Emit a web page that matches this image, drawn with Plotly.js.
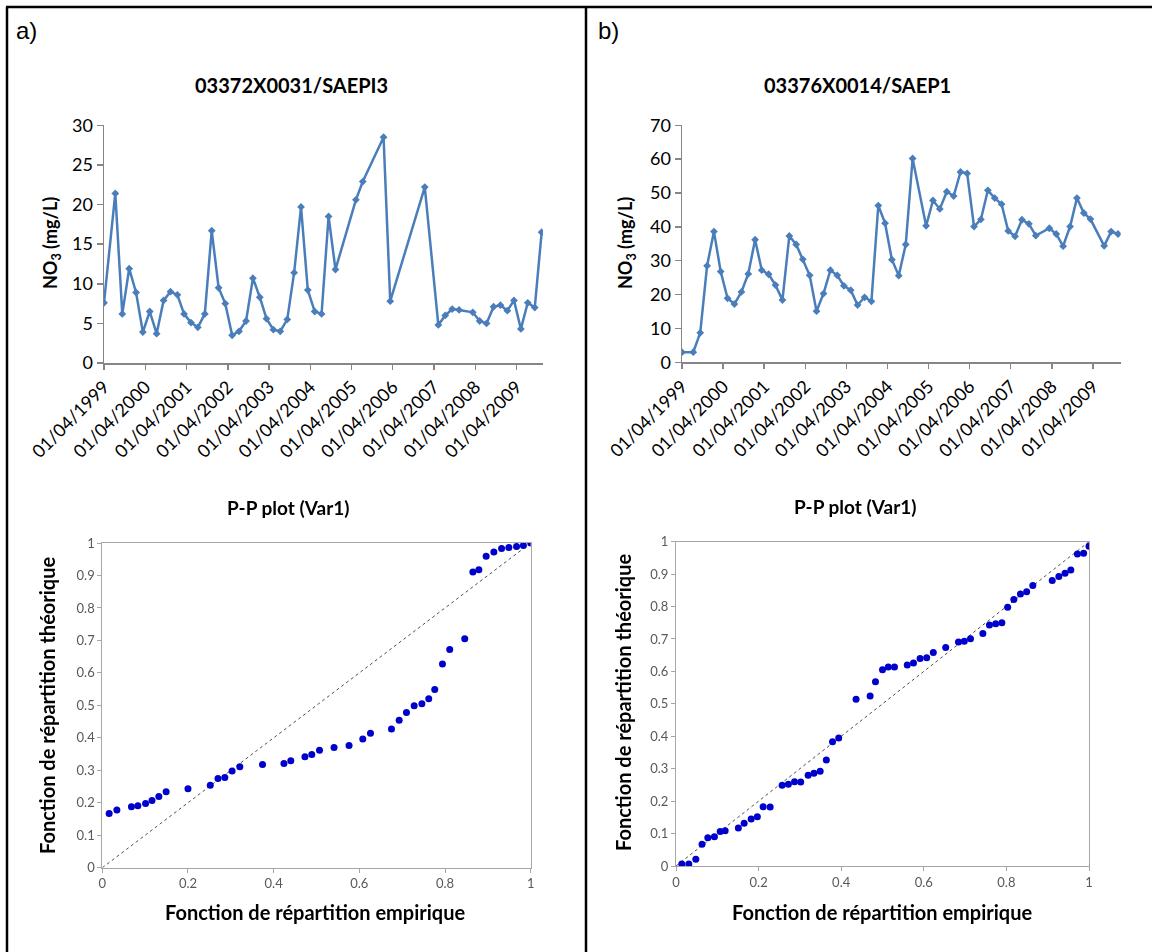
<!DOCTYPE html>
<html>
<head>
<meta charset="utf-8">
<script src="https://cdn.plot.ly/plotly-3.0.1.min.js"></script>
<style>
  html, body { margin: 0; padding: 0; background: #ffffff; }
  #wrap { position: relative; width: 1152px; height: 952px; }
  #series { position: absolute; left: 0; top: 0; width: 1152px; height: 952px; }
  #pp { position: absolute; left: 0; top: 480px; width: 1152px; height: 472px; filter: blur(0.45px); }
</style>
</head>
<body>
<div id="wrap">
  <div id="series"></div>
  <div id="pp"></div>
</div>
<script>
// ---- Station a) 03372X0031/SAEPI3 : nitrate time series ----
const datesA = [
  '1999-04-01','1999-07-10','1999-09-10','1999-11-10','2000-01-10','2000-03-10','2000-05-10',
  '2000-07-10','2000-09-10','2000-11-10','2001-01-10','2001-03-10','2001-05-10','2001-07-10',
  '2001-09-10','2001-11-10','2002-01-10','2002-03-10','2002-05-10','2002-07-10','2002-09-10',
  '2002-11-10','2003-01-10','2003-03-10','2003-05-10','2003-07-10','2003-09-10','2003-11-10',
  '2004-01-10','2004-03-10','2004-05-10','2004-07-10','2004-09-10','2004-11-10','2005-05-10',
  '2005-07-10','2006-01-10','2006-03-10','2007-01-10','2007-05-10','2007-07-10','2007-09-10',
  '2007-11-10','2008-03-10','2008-05-10','2008-07-10','2008-09-10','2008-11-10','2009-01-10',
  '2009-03-10','2009-05-10','2009-07-10','2009-09-10','2009-11-10'
];
const no3A = [
  7.6, 21.4, 6.2, 11.9, 8.9, 3.9, 6.5,
  3.7, 7.9, 9.0, 8.6, 6.2, 5.1, 4.5,
  6.2, 16.7, 9.5, 7.5, 3.5, 4.0, 5.3,
  10.7, 8.3, 5.6, 4.2, 4.0, 5.5, 11.4,
  19.7, 9.2, 6.5, 6.2, 18.5, 11.8, 20.6,
  22.9, 28.5, 7.8, 22.2, 4.8, 6.0, 6.8,
  6.7, 6.4, 5.3, 5.0, 7.1, 7.3, 6.6,
  7.9, 4.3, 7.6, 7.0, 16.5
];

// ---- Station b) 03376X0014/SAEP1 : nitrate time series ----
const datesB = [
  '1999-04-01','1999-07-10','1999-09-10','1999-11-10','2000-01-10','2000-03-10','2000-05-10',
  '2000-07-10','2000-09-10','2000-11-10','2001-01-10','2001-03-10','2001-05-10','2001-07-10',
  '2001-09-10','2001-11-10','2002-01-10','2002-03-10','2002-05-10','2002-07-10','2002-09-10',
  '2002-11-10','2003-01-10','2003-03-10','2003-05-10','2003-07-10','2003-09-10','2003-11-10',
  '2004-01-10','2004-03-10','2004-05-10','2004-07-10','2004-09-10','2004-11-10','2005-03-10',
  '2005-05-10','2005-07-10','2005-09-10','2005-11-10','2006-01-10','2006-03-10','2006-05-10',
  '2006-07-10','2006-09-10','2006-11-10','2007-01-10','2007-03-10','2007-05-10','2007-07-10',
  '2007-09-10','2007-11-10','2008-03-10','2008-05-10','2008-07-10','2008-09-10','2008-11-10',
  '2009-01-10','2009-03-10','2009-07-10','2009-09-10','2009-11-10'
];
const no3B = [
  3.0, 3.0, 8.7, 28.5, 38.6, 26.8, 18.9,
  17.2, 20.8, 26.1, 36.2, 27.2, 26.0, 22.8,
  18.4, 37.3, 34.8, 30.4, 25.7, 15.1, 20.3,
  27.2, 25.7, 22.6, 21.3, 16.9, 19.2, 18.0,
  46.3, 41.1, 30.3, 25.6, 34.8, 60.2, 40.3,
  47.8, 45.3, 50.4, 49.1, 56.2, 55.8, 40.1,
  42.2, 50.8, 48.5, 46.7, 38.8, 37.2, 42.1,
  40.9, 37.4, 39.6, 37.9, 34.3, 40.1, 48.5,
  44.1, 42.3, 34.4, 38.6, 37.9
];

// Yearly date ticks shown as dd/mm/yyyy
const tickDates = ['1999-04-01','2000-04-01','2001-04-01','2002-04-01','2003-04-01','2004-04-01',
                   '2005-04-01','2006-04-01','2007-04-01','2008-04-01','2009-04-01'];
const tickLabels = ['01/04/1999','01/04/2000','01/04/2001','01/04/2002','01/04/2003','01/04/2004',
                    '01/04/2005','01/04/2006','01/04/2007','01/04/2008','01/04/2009'];

// ---- P-P plots: empirical vs theoretical distribution function ----
const ppEmpA = [0.016,0.034,0.068,0.083,0.101,0.116,0.132,0.149,0.200,0.252,0.270,0.286,0.303,0.321,
                0.374,0.424,0.440,0.473,0.489,0.507,0.541,0.576,0.608,0.626,0.675,0.693,0.710,0.728,
                0.746,0.762,0.776,0.794,0.811,0.846,0.865,0.879,0.896,0.914,0.932,0.949,0.967,0.983,1.000];
const ppTheoA = [0.167,0.178,0.188,0.191,0.198,0.207,0.219,0.234,0.243,0.254,0.275,0.278,0.298,0.311,
                 0.318,0.321,0.329,0.342,0.349,0.362,0.370,0.376,0.396,0.414,0.427,0.454,0.478,0.499,
                 0.505,0.520,0.549,0.627,0.672,0.705,0.911,0.918,0.959,0.972,0.983,0.986,0.989,0.992,1.000];

const ppEmpB = [0.014,0.031,0.048,0.063,0.077,0.093,0.107,0.119,0.151,0.165,0.182,0.197,0.211,0.228,
                0.257,0.272,0.287,0.302,0.320,0.334,0.349,0.364,0.379,0.394,0.436,0.470,0.483,0.500,
                0.514,0.529,0.560,0.575,0.591,0.607,0.623,0.653,0.684,0.698,0.713,0.743,0.759,0.774,
                0.789,0.803,0.818,0.834,0.849,0.864,0.911,0.927,0.942,0.956,0.972,0.987,1.000];
const ppTheoB = [0.006,0.006,0.021,0.067,0.087,0.090,0.106,0.109,0.117,0.132,0.145,0.152,0.183,0.182,
                 0.249,0.252,0.260,0.259,0.280,0.286,0.292,0.327,0.383,0.395,0.514,0.524,0.568,0.605,
                 0.614,0.614,0.620,0.626,0.640,0.642,0.658,0.674,0.691,0.693,0.701,0.717,0.743,0.747,
                 0.750,0.798,0.822,0.839,0.846,0.865,0.880,0.893,0.903,0.913,0.962,0.964,0.986];

const refLine = [0, 1];

// ---- geometry helpers (page pixels -> paper fraction of each figure) ----
const W = 1152, H = 952;          // full page, time-series figure
const PP_TOP = 480, PP_H = 472;   // lower band holding the P-P plots
const px = v => v / W;
const py = v => 1 - v / H;
const qy = v => 1 - (v - PP_TOP) / PP_H;

const lineColor = '#4A7EBB';
const ppColor = '#0000CC';
const FONT = 'Lato, "Open Sans", sans-serif';

const bold = (t, x, y, size, angle, yfn) => ({
  text: '<b>' + t + '</b>', x: px(x), y: (yfn || py)(y), xref: 'paper', yref: 'paper',
  xanchor: 'center', yanchor: 'middle', showarrow: false, textangle: angle || 0,
  font: { family: FONT, size: size, color: '#000' }
});

// ---------------- upper figure: time series + panel frame ----------------
const seriesTraces = [
  { x: datesA, y: no3A, xaxis: 'x', yaxis: 'y', type: 'scatter', mode: 'lines+markers',
    line: { color: lineColor, width: 2.5 }, marker: { symbol: 'diamond', size: 6, color: lineColor } },
  { x: datesB, y: no3B, xaxis: 'x2', yaxis: 'y2', type: 'scatter', mode: 'lines+markers',
    line: { color: lineColor, width: 2.5 }, marker: { symbol: 'diamond', size: 6, color: lineColor } }
];

const tsX = (dom, end, anchor) => ({
  domain: dom, anchor: anchor, type: 'date', range: ['1999-04-01', end],
  tickmode: 'array', tickvals: tickDates, ticktext: tickLabels, tickangle: -45,
  tickfont: { family: FONT, size: 18, color: '#000' },
  showline: true, linecolor: '#868686', linewidth: 1.5,
  ticks: 'outside', ticklen: 5, tickwidth: 1.5, tickcolor: '#868686',
  showgrid: false, zeroline: false
});
const tsY = (dom, max, dt, anchor) => ({
  domain: dom, anchor: anchor, range: [0, max], dtick: dt,
  tickfont: { family: FONT, size: 18, color: '#000' },
  showline: true, linecolor: '#868686', linewidth: 1.5,
  ticks: 'outside', ticklen: 6, tickwidth: 1.5, tickcolor: '#868686',
  showgrid: false, zeroline: false
});

const frame = { color: '#000', width: 2.5 };
const seriesLayout = {
  width: W, height: H,
  margin: { l: 0, r: 0, t: 0, b: 0 },
  paper_bgcolor: '#ffffff', plot_bgcolor: '#ffffff',
  showlegend: false,
  xaxis: tsX([px(104), px(543)], '2009-11-22', 'y'),
  yaxis: tsY([py(363), py(125.3)], 30, 5, 'x'),
  xaxis2: tsX([px(682), px(1120.7)], '2009-12-04', 'y2'),
  yaxis2: tsY([py(362.3), py(125.3)], 70, 10, 'x2'),
  annotations: [
    { text: 'a)', x: px(14), y: py(30), xref: 'paper', yref: 'paper', xanchor: 'left', yanchor: 'middle',
      showarrow: false, font: { family: '"Liberation Sans", Arial, sans-serif', size: 24, color: '#000' } },
    { text: 'b)', x: px(596), y: py(30), xref: 'paper', yref: 'paper', xanchor: 'left', yanchor: 'middle',
      showarrow: false, font: { family: '"Liberation Sans", Arial, sans-serif', size: 24, color: '#000' } },
    bold('03372X0031/SAEPI3', 291, 85, 20),
    bold('03376X0014/SAEP1', 857, 85, 20),
    bold('NO<sub>3</sub> (mg/L)', 52, 243, 18, -90),
    bold('NO<sub>3</sub> (mg/L)', 627, 243, 18, -90)
  ],
  shapes: [
    { type: 'line', xref: 'paper', yref: 'paper', x0: px(6), x1: 1, y0: py(7), y1: py(7), line: frame },
    { type: 'line', xref: 'paper', yref: 'paper', x0: px(7), x1: px(7), y0: py(7), y1: 0, line: frame },
    { type: 'line', xref: 'paper', yref: 'paper', x0: px(586), x1: px(586), y0: py(7), y1: 0, line: frame }
  ]
};

// ---------------- lower figure: P-P plots ----------------
const ppTraces = [
  { x: refLine, y: refLine, xaxis: 'x', yaxis: 'y', type: 'scatter', mode: 'lines',
    line: { color: '#505050', width: 1, dash: 'dot' } },
  { x: ppEmpA, y: ppTheoA, xaxis: 'x', yaxis: 'y', type: 'scatter', mode: 'markers',
    marker: { color: ppColor, size: 7 } },
  { x: refLine, y: refLine, xaxis: 'x2', yaxis: 'y2', type: 'scatter', mode: 'lines',
    line: { color: '#505050', width: 1, dash: 'dot' } },
  { x: ppEmpB, y: ppTheoB, xaxis: 'x2', yaxis: 'y2', type: 'scatter', mode: 'markers',
    marker: { color: ppColor, size: 7 } }
];

const ppAx = (dom, dt, anchor) => ({
  domain: dom, anchor: anchor, range: [0, 1], dtick: dt,
  tickfont: { family: FONT, size: 13, color: '#595959' },
  showline: true, mirror: true, linecolor: '#A6A6A6', linewidth: 1,
  ticks: 'outside', ticklen: 4, tickwidth: 1, tickcolor: '#A6A6A6',
  showgrid: false, zeroline: false
});

const ppLayout = {
  width: W, height: PP_H,
  margin: { l: 0, r: 0, t: 0, b: 0 },
  paper_bgcolor: 'rgba(0,0,0,0)', plot_bgcolor: 'rgba(0,0,0,0)',
  showlegend: false,
  xaxis: ppAx([px(102.3), px(530.7)], 0.2, 'y'),
  yaxis: ppAx([qy(867.7), qy(543)], 0.1, 'x'),
  xaxis2: ppAx([px(676), px(1089)], 0.2, 'y2'),
  yaxis2: ppAx([qy(866), qy(541.7)], 0.1, 'x2'),
  annotations: [
    bold('P-P plot (Var1)', 288, 508, 19, 0, qy),
    bold('P-P plot (Var1)', 855, 507, 19, 0, qy),
    bold('Fonction de répartition empirique', 315, 912, 20, 0, qy),
    bold('Fonction de répartition théorique', 47, 706, 20, -90, qy),
    bold('Fonction de répartition empirique', 882, 912, 20, 0, qy),
    bold('Fonction de répartition théorique', 623, 703, 20, -90, qy)
  ]
};

Plotly.newPlot('series', seriesTraces, seriesLayout, { displayModeBar: false, staticPlot: true });
Plotly.newPlot('pp', ppTraces, ppLayout, { displayModeBar: false, staticPlot: true });
</script>
</body>
</html>
